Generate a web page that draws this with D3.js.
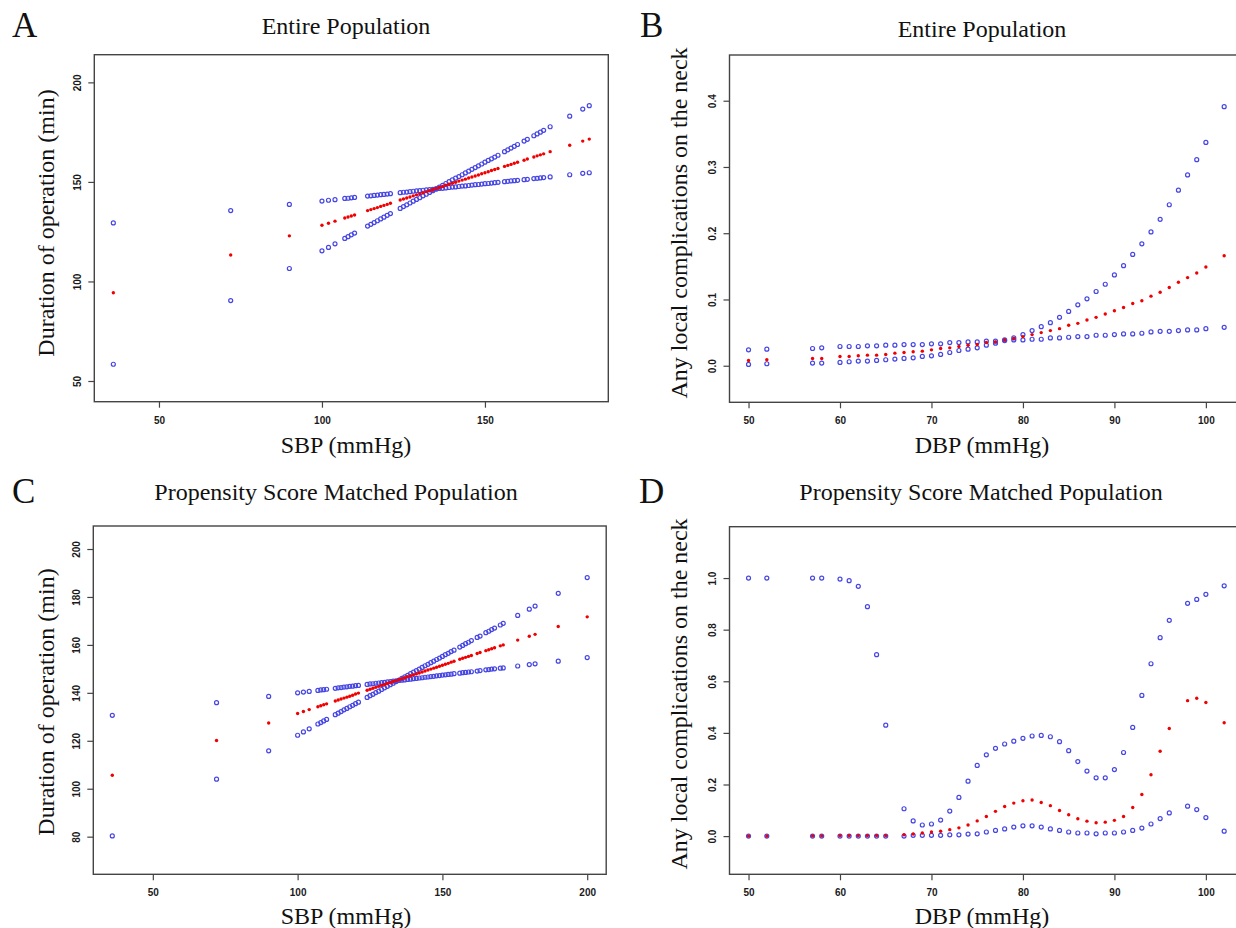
<!DOCTYPE html>
<html>
<head>
<meta charset="utf-8">
<script src="https://cdn.jsdelivr.net/npm/d3@7"></script>
<style>
    body { margin: 0; background: #fff; overflow: hidden; }
    svg { display: block; }
</style>
</head>
<body>
<div id="chart"></div>
<script>
// ---- Panel A: entire population, SBP vs duration of operation ----
const sbpA = [36, 72, 90, 100, 102, 104, 107, 108, 109, 110,
    114, 115, 116, 117, 118, 119, 120, 121,
    124, 125, 126, 127, 128, 129, 130, 131, 132, 133, 134, 135, 136, 137, 138, 139,
    140, 141, 142, 143, 144, 145, 146, 147, 148, 149, 150, 151, 152, 153, 154,
    156, 157, 158, 159, 160, 162, 163, 165, 166, 167, 168, 170, 176, 180, 182];
const fitA = [94.3, 113.3, 122.9, 128.2, 129.2, 130.3, 131.9, 132.4, 132.9, 133.4,
    135.6, 136.1, 136.6, 137.1, 137.7, 138.2, 138.7, 139.3,
    140.9, 141.4, 141.9, 142.4, 143.0, 143.5, 144.0, 144.6, 145.1, 145.6, 146.1, 146.7, 147.2, 147.7, 148.3, 148.8,
    149.3, 149.8, 150.4, 150.9, 151.4, 152.0, 152.5, 153.0, 153.5, 154.1, 154.6, 155.1, 155.7, 156.2, 156.7,
    157.8, 158.3, 158.8, 159.4, 159.9, 160.9, 161.5, 162.5, 163.1, 163.6, 164.1, 165.2, 168.4, 170.5, 171.5];
const lowerA = [58.4, 90.4, 106.5, 115.4, 117.1, 118.9, 121.6, 122.5, 123.4, 124.3,
    127.8, 128.7, 129.6, 130.5, 131.4, 132.3, 133.2, 134.1,
    136.7, 137.6, 138.5, 139.4, 140.3, 141.2, 142.1, 143.0, 143.8, 144.7, 145.6, 146.5, 146.7, 146.8, 147.0, 147.2,
    147.4, 147.5, 147.7, 147.9, 148.0, 148.2, 148.4, 148.6, 148.7, 148.9, 149.1, 149.2, 149.4, 149.6, 149.8,
    150.1, 150.3, 150.5, 150.6, 150.8, 151.1, 151.3, 151.7, 151.8, 152.0, 152.2, 152.5, 153.6, 154.3, 154.6];
const upperA = [129.4, 135.6, 138.7, 140.4, 140.8, 141.1, 141.7, 141.8, 142.0, 142.2,
    142.9, 143.0, 143.2, 143.4, 143.6, 143.7, 143.9, 144.1,
    144.6, 144.8, 144.9, 145.1, 145.3, 145.5, 145.6, 145.8, 146.0, 146.1, 146.3, 146.5, 147.4, 148.3, 149.2, 150.1,
    151.0, 151.9, 152.7, 153.6, 154.5, 155.4, 156.3, 157.2, 158.1, 159.0, 159.9, 160.8, 161.6, 162.5, 163.4,
    165.2, 166.1, 167.0, 167.9, 168.8, 170.5, 171.4, 173.2, 174.1, 175.0, 175.9, 177.7, 183.0, 186.6, 188.3];

// ---- Panel B: entire population, DBP vs local complications ----
const dbpB = [50, 52, 57, 58, 60, 61, 62, 63, 64, 65, 66, 67, 68, 69, 70, 71, 72, 73, 74, 75,
    76, 77, 78, 79, 80, 81, 82, 83, 84, 85, 86, 87, 88, 89, 90, 91, 92, 93, 94, 95,
    96, 97, 98, 99, 100, 102];
const fitB = [0.008, 0.009, 0.011, 0.011, 0.014, 0.014, 0.015, 0.016, 0.016, 0.017, 0.019, 0.020, 0.021, 0.022, 0.024, 0.026, 0.027, 0.029, 0.031, 0.032,
    0.035, 0.036, 0.039, 0.041, 0.044, 0.047, 0.050, 0.053, 0.056, 0.061, 0.064, 0.069, 0.073, 0.078, 0.083, 0.088, 0.094, 0.098, 0.105, 0.111,
    0.118, 0.126, 0.133, 0.140, 0.149, 0.166];
const lowerB = [0.002, 0.003, 0.004, 0.004, 0.005, 0.006, 0.007, 0.007, 0.008, 0.009, 0.010, 0.011, 0.012, 0.014, 0.015, 0.017, 0.020, 0.023, 0.025, 0.027,
    0.031, 0.034, 0.038, 0.039, 0.039, 0.040, 0.040, 0.042, 0.042, 0.043, 0.044, 0.044, 0.046, 0.046, 0.047, 0.048, 0.048, 0.049, 0.051, 0.052,
    0.052, 0.053, 0.054, 0.054, 0.056, 0.058];
const upperB = [0.024, 0.025, 0.026, 0.027, 0.029, 0.029, 0.029, 0.030, 0.030, 0.031, 0.031, 0.032, 0.032, 0.032, 0.033, 0.033, 0.035, 0.035, 0.036, 0.036,
    0.037, 0.037, 0.039, 0.042, 0.047, 0.053, 0.059, 0.065, 0.073, 0.082, 0.092, 0.101, 0.112, 0.123, 0.137, 0.151, 0.168, 0.184, 0.202, 0.221,
    0.243, 0.265, 0.288, 0.311, 0.337, 0.391];

// ---- Panel C: propensity score matched, SBP vs duration of operation ----
const sbpC = [36, 72, 90, 100, 102, 104, 107, 108, 109, 110,
    113, 114, 115, 116, 117, 118, 119, 120, 121,
    124, 125, 126, 127, 128, 129, 130, 131, 132, 133, 134, 135, 136, 137, 138, 139,
    140, 141, 142, 143, 144, 145, 146, 147, 148, 149, 150, 151, 152, 153, 154,
    156, 157, 158, 159, 160, 162, 163, 165, 166, 167, 168, 170, 171, 176, 180, 182, 190, 200];
const fitC = [105.6, 120.1, 127.4, 131.4, 132.2, 133.0, 134.2, 134.6, 135.0, 135.4,
    136.6, 137.0, 137.4, 137.8, 138.2, 138.6, 139.0, 139.5, 139.9,
    141.1, 141.5, 141.9, 142.3, 142.7, 143.1, 143.5, 143.9, 144.3, 144.7, 145.1, 145.5, 145.9, 146.3, 146.7, 147.1,
    147.5, 147.9, 148.3, 148.7, 149.1, 149.5, 149.9, 150.3, 150.7, 151.1, 151.5, 151.9, 152.3, 152.8, 153.2,
    154.0, 154.4, 154.8, 155.2, 155.6, 156.4, 156.8, 157.6, 158.0, 158.4, 158.8, 159.6, 160.0, 162.0, 163.6, 164.4, 167.7, 171.7];
const lowerC = [80.3, 104.0, 115.8, 122.3, 123.7, 125.0, 127.0, 127.6, 128.3, 128.9,
    130.9, 131.5, 132.2, 132.9, 133.5, 134.2, 134.8, 135.5, 136.1,
    138.1, 138.8, 139.4, 140.1, 140.7, 141.4, 142.1, 142.7, 143.4, 144.0, 144.7, 145.2, 145.3, 145.4, 145.6, 145.7,
    145.9, 146.0, 146.2, 146.3, 146.5, 146.6, 146.8, 146.9, 147.1, 147.2, 147.4, 147.5, 147.7, 147.8, 148.0,
    148.2, 148.4, 148.5, 148.7, 148.8, 149.1, 149.3, 149.6, 149.7, 149.9, 150.0, 150.3, 150.4, 151.2, 151.8, 152.1, 153.2, 154.7];
const upperC = [130.6, 135.9, 138.5, 140.0, 140.3, 140.6, 141.0, 141.2, 141.3, 141.5,
    141.9, 142.1, 142.2, 142.4, 142.5, 142.7, 142.8, 143.0, 143.1,
    143.5, 143.7, 143.8, 144.0, 144.1, 144.3, 144.4, 144.6, 144.7, 144.9, 145.0, 145.3, 146.0, 146.7, 147.3, 148.0,
    148.6, 149.3, 149.9, 150.6, 151.3, 151.9, 152.6, 153.2, 153.9, 154.5, 155.2, 155.9, 156.5, 157.2, 157.8,
    159.1, 159.8, 160.5, 161.1, 161.8, 163.1, 163.7, 165.1, 165.7, 166.4, 167.0, 168.3, 169.0, 172.3, 174.9, 176.2, 181.5, 188.1];

// ---- Panel D: propensity score matched, DBP vs local complications ----
const dbpD = [50, 52, 57, 58, 60, 61, 62, 63, 64, 65,
    67, 68, 69, 70, 71, 72, 73, 74, 75, 76, 77, 78, 79, 80, 81, 82, 83, 84, 85, 86,
    87, 88, 89, 90, 91, 92, 93, 94, 95, 96, 98, 99, 100, 102];
const fitD = [0.000, 0.000, 0.001, 0.001, 0.002, 0.002, 0.002, 0.002, 0.002, 0.002,
    0.005, 0.008, 0.012, 0.016, 0.019, 0.025, 0.032, 0.043, 0.059, 0.076, 0.096, 0.115, 0.128, 0.137, 0.140, 0.130, 0.118, 0.099, 0.083, 0.067,
    0.058, 0.052, 0.054, 0.061, 0.076, 0.111, 0.161, 0.238, 0.329, 0.417, 0.525, 0.534, 0.518, 0.439];
const lowerD = [0.000, 0.000, 0.000, 0.000, 0.000, 0.000, 0.000, 0.000, 0.000, 0.000,
    0.000, 0.003, 0.003, 0.003, 0.003, 0.005, 0.005, 0.008, 0.009, 0.016, 0.022, 0.028, 0.035, 0.040, 0.040, 0.035, 0.028, 0.022, 0.016, 0.012,
    0.012, 0.009, 0.012, 0.012, 0.016, 0.022, 0.031, 0.047, 0.068, 0.090, 0.116, 0.103, 0.072, 0.019];
const upperD = [1.000, 1.000, 1.000, 1.000, 0.996, 0.990, 0.968, 0.889, 0.703, 0.430,
    0.106, 0.059, 0.043, 0.047, 0.062, 0.097, 0.150, 0.213, 0.274, 0.315, 0.340, 0.357, 0.368, 0.379, 0.388, 0.390, 0.385, 0.366, 0.331, 0.289,
    0.252, 0.226, 0.226, 0.258, 0.324, 0.421, 0.545, 0.668, 0.769, 0.836, 0.902, 0.917, 0.937, 0.970];

// tick values
const sbpTicksA = [50, 100, 150];
const sbpTicksC = [50, 100, 150, 200];
const durTicksA = [50, 100, 150, 200];
const durTicksC = [80, 100, 120, 140, 160, 180, 200];
const dbpTicks = [50, 60, 70, 80, 90, 100];
const compTicksB = [0, 0.1, 0.2, 0.3, 0.4];
const compTicksD = [0, 0.2, 0.4, 0.6, 0.8, 1.0];

const BLUE = '#4646e4';
const RED = '#f00000';
const SERIF = '"Liberation Serif", "Times New Roman", serif';
const SANS = '"Liberation Sans", Arial, sans-serif';

const svg = d3.select('#chart')
    .append('svg')
    .attr('width', 1236)
    .attr('height', 928)
    .style('background', '#fff');

const panels = [
    {
        letter: 'A', letterPos: [12, 37], title: 'Entire Population', titlePos: [346, 34],
        box: { x0: 94.3, x1: 608.3, y0: 54.7, y1: 401.7 },
        xDomain: [30.16, 187.84], yDomain: [39.6, 213.9],
        xs: sbpA, fit: fitA, lower: lowerA, upper: upperA,
        xTicks: sbpTicksA, yTicks: durTicksA, yFormat: d3.format('d'),
        xLabel: 'SBP (mmHg)', xLabelPos: [346, 453],
        yLabel: 'Duration of operation (min)', yLabelPos: [54, 223]
    },
    {
        letter: 'B', letterPos: [640, 37], title: 'Entire Population', titlePos: [982, 37],
        box: { x0: 729.5, x1: 1243.2, y0: 55, y1: 402.3 },
        xDomain: [47.92, 104.08], yDomain: [-0.0552, 0.469],
        xs: dbpB, fit: fitB, lower: lowerB, upper: upperB,
        xTicks: dbpTicks, yTicks: compTicksB, yFormat: d3.format('.1f'),
        xLabel: 'DBP (mmHg)', xLabelPos: [982, 453],
        yLabel: 'Any local complications on the neck', yLabelPos: [687, 223]
    },
    {
        letter: 'C', letterPos: [12, 503], title: 'Propensity Score Matched Population', titlePos: [336, 500],
        box: { x0: 93.3, x1: 606.2, y0: 526, y1: 874.3 },
        xDomain: [29.44, 206.56], yDomain: [64.3, 209.6],
        xs: sbpC, fit: fitC, lower: lowerC, upper: upperC,
        xTicks: sbpTicksC, yTicks: durTicksC, yFormat: d3.format('d'),
        xLabel: 'SBP (mmHg)', xLabelPos: [346, 924],
        yLabel: 'Duration of operation (min)', yLabelPos: [54, 702]
    },
    {
        letter: 'D', letterPos: [639, 503], title: 'Propensity Score Matched Population', titlePos: [981, 500],
        box: { x0: 729.5, x1: 1243.2, y0: 526.7, y1: 874.3 },
        xDomain: [47.92, 104.08], yDomain: [-0.148, 1.199],
        xs: dbpD, fit: fitD, lower: lowerD, upper: upperD,
        xTicks: dbpTicks, yTicks: compTicksD, yFormat: d3.format('.1f'),
        xLabel: 'DBP (mmHg)', xLabelPos: [982, 924],
        yLabel: 'Any local complications on the neck', yLabelPos: [687, 694]
    }
];

panels.forEach(drawPanel);

function drawPanel(p) {
    const g = svg.append('g');
    const b = p.box;

    const x = d3.scaleLinear().domain(p.xDomain).range([b.x0, b.x1]);
    const y = d3.scaleLinear().domain(p.yDomain).range([b.y1, b.y0]);

    // panel letter and title
    g.append('text')
        .attr('x', p.letterPos[0])
        .attr('y', p.letterPos[1])
        .style('font-family', SERIF)
        .style('font-size', '35px')
        .style('fill', '#111')
        .text(p.letter);

    g.append('text')
        .attr('x', p.titlePos[0])
        .attr('y', p.titlePos[1])
        .attr('text-anchor', 'middle')
        .style('font-family', SERIF)
        .style('font-size', '24px')
        .style('fill', '#111')
        .text(p.title);

    // x axis (ticks only, the frame is drawn below)
    const xAxis = g.append('g')
        .attr('transform', `translate(0,${b.y1})`)
        .call(d3.axisBottom(x).tickValues(p.xTicks).tickSize(6).tickPadding(9).tickFormat(d3.format('d')));
    xAxis.select('.domain').remove();
    xAxis.selectAll('line').attr('stroke', '#444').attr('stroke-width', 1.2);
    xAxis.selectAll('text')
        .style('font-family', SANS)
        .style('font-size', '10px')
        .style('font-weight', 'bold')
        .style('fill', '#1a1a1a');

    // y axis, labels turned like R's default
    const yAxis = g.append('g')
        .attr('transform', `translate(${b.x0},0)`)
        .call(d3.axisLeft(y).tickValues(p.yTicks).tickSize(6).tickFormat(p.yFormat));
    yAxis.select('.domain').remove();
    yAxis.selectAll('line').attr('stroke', '#444').attr('stroke-width', 1.2);
    yAxis.selectAll('text')
        .attr('transform', 'rotate(-90)')
        .attr('x', 0)
        .attr('y', -13.4)
        .attr('dy', 0)
        .attr('text-anchor', 'middle')
        .style('font-family', SANS)
        .style('font-size', '10px')
        .style('font-weight', 'bold')
        .style('fill', '#1a1a1a');

    // plot frame
    g.append('rect')
        .attr('x', b.x0)
        .attr('y', b.y0)
        .attr('width', b.x1 - b.x0)
        .attr('height', b.y1 - b.y0)
        .attr('fill', 'none')
        .attr('stroke', '#444')
        .attr('stroke-width', 1.4);

    // axis titles
    g.append('text')
        .attr('x', p.xLabelPos[0])
        .attr('y', p.xLabelPos[1])
        .attr('text-anchor', 'middle')
        .style('font-family', SERIF)
        .style('font-size', '24px')
        .style('fill', '#111')
        .text(p.xLabel);

    g.append('text')
        .attr('transform', `translate(${p.yLabelPos[0]},${p.yLabelPos[1]}) rotate(-90)`)
        .attr('text-anchor', 'middle')
        .style('font-family', SERIF)
        .style('font-size', '24px')
        .style('fill', '#111')
        .text(p.yLabel);

    // confidence limits as open blue circles
    const limits = p.xs.map((v, i) => [v, p.lower[i]]).concat(p.xs.map((v, i) => [v, p.upper[i]]));
    g.selectAll('.ci')
        .data(limits)
        .join('circle')
        .attr('class', 'ci')
        .attr('cx', d => x(d[0]))
        .attr('cy', d => y(d[1]))
        .attr('r', 2.0)
        .attr('fill', 'none')
        .attr('stroke', BLUE)
        .attr('stroke-width', 1.2);

    // fitted values as small red dots
    g.selectAll('.fit')
        .data(p.xs.map((v, i) => [v, p.fit[i]]))
        .join('circle')
        .attr('class', 'fit')
        .attr('cx', d => x(d[0]))
        .attr('cy', d => y(d[1]))
        .attr('r', 1.7)
        .attr('fill', RED);
}
</script>
</body>
</html>
